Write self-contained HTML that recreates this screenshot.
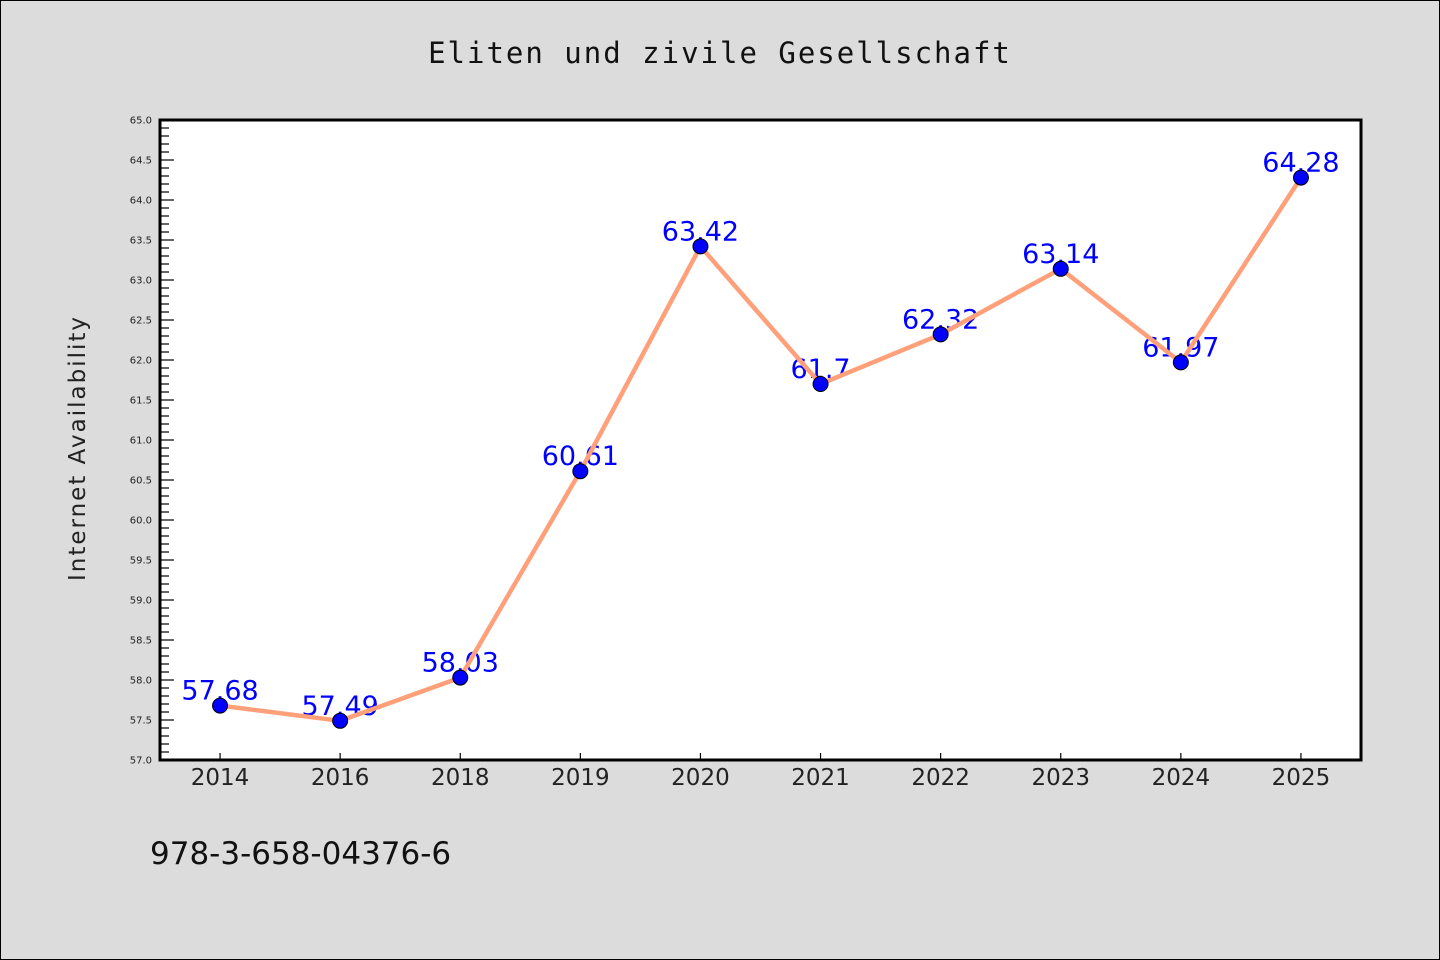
<!DOCTYPE html>
<html><head><meta charset="utf-8"><style>
html,body{margin:0;padding:0;background:#dcdcdc;}
svg{display:block;font-family:"DejaVu Sans","Liberation Sans",sans-serif;}
</style></head><body>
<svg id="chart" width="1440" height="960">
<rect x="0.5" y="0.5" width="1439" height="959" fill="#dcdcdc" stroke="#000"/>
<text x="720" y="63" text-anchor="middle" font-family="DejaVu Sans Mono, monospace" font-size="29" letter-spacing="2" fill="#111">Eliten und zivile Gesellschaft</text>
<rect x="160" y="120" width="1201" height="640" fill="#fff"/>
<g id="yticks"></g><g id="xticks"></g>
<rect x="160" y="120" width="1201" height="640" fill="none" stroke="#000" stroke-width="3"/>
<text transform="translate(85,448) rotate(-90)" text-anchor="middle" font-size="23" letter-spacing="2" fill="#222">Internet Availability</text>
<g id="series"></g>
<text x="150" y="864" font-size="31" fill="#111">978-3-658-04376-6</text>
</svg>
<script>
const categories=["2014","2016","2018","2019","2020","2021","2022","2023","2024","2025"];
const values=[57.68,57.49,58.03,60.61,63.42,61.7,62.32,63.14,61.97,64.28];
const valueLabels=["57.68","57.49","58.03","60.61","63.42","61.7","62.32","63.14","61.97","64.28"];
const yMin=57,yMax=65;
const NS="http://www.w3.org/2000/svg";
const L=160,R=1361,T=120,B=760;
function y(v){return B-(v-yMin)/(yMax-yMin)*(B-T);}
function x(i){const step=(R-L)/categories.length;return L+step*(i+0.5);}
function mk(tag,a,p){const e=document.createElementNS(NS,tag);for(const k in a)e.setAttribute(k,a[k]);p.appendChild(e);return e;}
const yt=document.getElementById('yticks');
for(let k=0;k<=80;k++){const v=yMin+k*0.1;const yy=y(v);const major=k%5===0;
const t=mk('line',{x1:L,x2:L+(major?14:9),y1:yy,y2:yy,stroke:'#000','stroke-width':1.2},yt);


if(major){const tx=mk('text',{x:L-8,y:yy+3.5,'text-anchor':'end','font-size':10,fill:'#222'},yt);tx.textContent=v.toFixed(1);

}}
const xt=document.getElementById('xticks');
categories.forEach((c,i)=>{const xx=x(i);
const t=mk('line',{x1:xx,x2:xx,y1:B,y2:B-7,stroke:'#000','stroke-width':1.2},xt);


const tx=mk('text',{x:xx,y:B+25,'text-anchor':'middle','font-size':23,fill:'#222'},xt);tx.textContent=c;

});
const s=document.getElementById('series');
values.forEach((v,i)=>{const tx=mk('text',{x:x(i),y:y(v)-6,'text-anchor':'middle','font-size':27,fill:'#0000ff'},s);tx.textContent=valueLabels[i];

});
const pl=mk('polyline',{points:values.map((v,i)=>x(i)+','+y(v)).join(' '),fill:'none',stroke:'#ffa07a','stroke-width':4.5,'stroke-linejoin':'round'},s);


values.forEach((v,i)=>{const c=mk('circle',{cx:x(i),cy:y(v),r:7.5,fill:'#0000ff',stroke:'#000','stroke-width':1},s);

});
</script>
</body></html>
